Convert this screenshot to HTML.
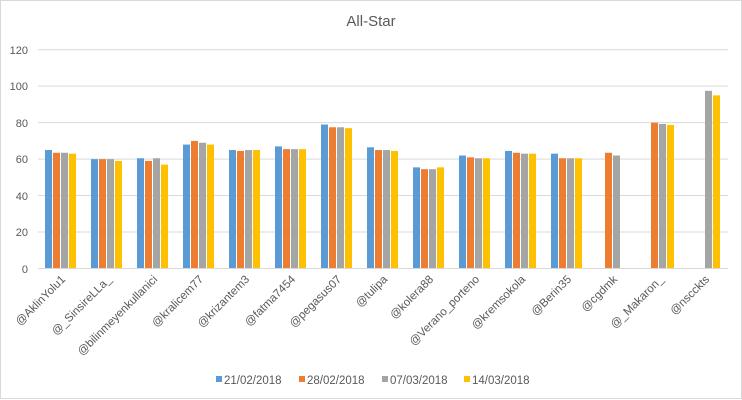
<!DOCTYPE html>
<html><head><style>body{margin:0;background:#fff}svg{display:block}</style></head><body>
<svg width="742" height="400" xmlns="http://www.w3.org/2000/svg" font-family="Liberation Sans, sans-serif">
<rect x="0.5" y="0.5" width="741" height="398" fill="#fff" stroke="#d9d9d9"/>
<text x="371" y="26" text-anchor="middle" font-size="15" fill="#595959">All-Star</text>
<g stroke="#d9d9d9" stroke-width="1">
<line x1="38" x2="728" y1="49.7" y2="49.7"/><line x1="38" x2="728" y1="86.1" y2="86.1"/><line x1="38" x2="728" y1="122.6" y2="122.6"/><line x1="38" x2="728" y1="159.1" y2="159.1"/><line x1="38" x2="728" y1="195.5" y2="195.5"/><line x1="38" x2="728" y1="232" y2="232"/><line x1="38" x2="728" y1="268.5" y2="268.5"/>
</g>
<g font-size="11" fill="#595959" text-anchor="end">
<text x="28" y="54">120</text><text x="28" y="90">100</text><text x="28" y="127">80</text><text x="28" y="163">60</text><text x="28" y="200">40</text><text x="28" y="236">20</text><text x="28" y="273">0</text>
</g>
<g fill="#5b9bd5">
<rect x="45" y="150.04" width="7" height="118.46"/>
<rect x="91" y="159.15" width="7" height="109.35"/>
<rect x="137" y="158.24" width="7" height="110.26"/>
<rect x="183" y="144.57" width="7" height="123.93"/>
<rect x="229" y="150.04" width="7" height="118.46"/>
<rect x="275" y="146.39" width="7" height="122.11"/>
<rect x="321" y="124.52" width="7" height="143.98"/>
<rect x="367" y="147.3" width="7" height="121.2"/>
<rect x="413" y="167.35" width="7" height="101.15"/>
<rect x="459" y="155.5" width="7" height="113"/>
<rect x="505" y="150.95" width="7" height="117.55"/>
<rect x="551" y="153.68" width="7" height="114.82"/>
</g>
<g fill="#ed7d31">
<rect x="53" y="152.77" width="7" height="115.73"/>
<rect x="99" y="159.15" width="7" height="109.35"/>
<rect x="145" y="160.97" width="7" height="107.53"/>
<rect x="191" y="140.92" width="7" height="127.58"/>
<rect x="237" y="150.95" width="7" height="117.55"/>
<rect x="283" y="149.13" width="7" height="119.37"/>
<rect x="329" y="127.26" width="7" height="141.24"/>
<rect x="375" y="150.04" width="7" height="118.46"/>
<rect x="421" y="169.17" width="7" height="99.33"/>
<rect x="467" y="157.33" width="7" height="111.17"/>
<rect x="513" y="152.77" width="7" height="115.73"/>
<rect x="559" y="158.24" width="7" height="110.26"/>
<rect x="605" y="152.77" width="7" height="115.73"/>
<rect x="651" y="122.7" width="7" height="145.8"/>
</g>
<g fill="#a5a5a5">
<rect x="61" y="152.77" width="7" height="115.73"/>
<rect x="107" y="159.15" width="7" height="109.35"/>
<rect x="153" y="158.24" width="7" height="110.26"/>
<rect x="199" y="142.75" width="7" height="125.75"/>
<rect x="245" y="150.04" width="7" height="118.46"/>
<rect x="291" y="149.13" width="7" height="119.37"/>
<rect x="337" y="127.26" width="7" height="141.24"/>
<rect x="383" y="150.04" width="7" height="118.46"/>
<rect x="429" y="169.17" width="7" height="99.33"/>
<rect x="475" y="158.24" width="7" height="110.26"/>
<rect x="521" y="153.68" width="7" height="114.82"/>
<rect x="567" y="158.24" width="7" height="110.26"/>
<rect x="613" y="155.5" width="7" height="113"/>
<rect x="659" y="123.98" width="7" height="144.52"/>
<rect x="705" y="90.81" width="7" height="177.69"/>
</g>
<g fill="#ffc000">
<rect x="69" y="153.68" width="7" height="114.82"/>
<rect x="115" y="160.97" width="7" height="107.53"/>
<rect x="161" y="164.62" width="7" height="103.88"/>
<rect x="207" y="144.57" width="7" height="123.93"/>
<rect x="253" y="150.04" width="7" height="118.46"/>
<rect x="299" y="149.13" width="7" height="119.37"/>
<rect x="345" y="128.17" width="7" height="140.33"/>
<rect x="391" y="150.95" width="7" height="117.55"/>
<rect x="437" y="167.35" width="7" height="101.15"/>
<rect x="483" y="158.24" width="7" height="110.26"/>
<rect x="529" y="153.68" width="7" height="114.82"/>
<rect x="575" y="158.24" width="7" height="110.26"/>
<rect x="667" y="124.89" width="7" height="143.61"/>
<rect x="713" y="95.36" width="7" height="173.14"/>
</g>
<line x1="38" x2="728" y1="268.5" y2="268.5" stroke="#d9d9d9"/>
<g font-size="11.5" fill="#595959" text-anchor="end">
<text transform="translate(66,280) rotate(-45)">@AklinYolu1</text>
<text transform="translate(112,280) rotate(-45)">@_SinsireLLa_</text>
<text transform="translate(158,280) rotate(-45)">@bilinmeyenkullanici</text>
<text transform="translate(204,280) rotate(-45)">@kralicem77</text>
<text transform="translate(250,280) rotate(-45)">@krizantem3</text>
<text transform="translate(296,280) rotate(-45)">@fatma7454</text>
<text transform="translate(342,280) rotate(-45)">@pegasus07</text>
<text transform="translate(388,280) rotate(-45)">@tulipa</text>
<text transform="translate(434,280) rotate(-45)">@kolera88</text>
<text transform="translate(480,280) rotate(-45)">@Verano_porteno</text>
<text transform="translate(526,280) rotate(-45)">@kremsokola</text>
<text transform="translate(572,280) rotate(-45)">@Berin35</text>
<text transform="translate(618,280) rotate(-45)">@cgdmk</text>
<text transform="translate(664,280) rotate(-45)">@_Makaron_</text>
<text transform="translate(710,280) rotate(-45)">@nscckts</text>
</g>
<g font-size="11.5" fill="#595959">
<rect x="216" y="376" width="6" height="6" fill="#5b9bd5"/><text x="224" y="384">21/02/2018</text>
<rect x="299" y="376" width="6" height="6" fill="#ed7d31"/><text x="307" y="384">28/02/2018</text>
<rect x="382" y="376" width="6" height="6" fill="#a5a5a5"/><text x="390" y="384">07/03/2018</text>
<rect x="464" y="376" width="6" height="6" fill="#ffc000"/><text x="472" y="384">14/03/2018</text>
</g>
</svg>
</body></html>
